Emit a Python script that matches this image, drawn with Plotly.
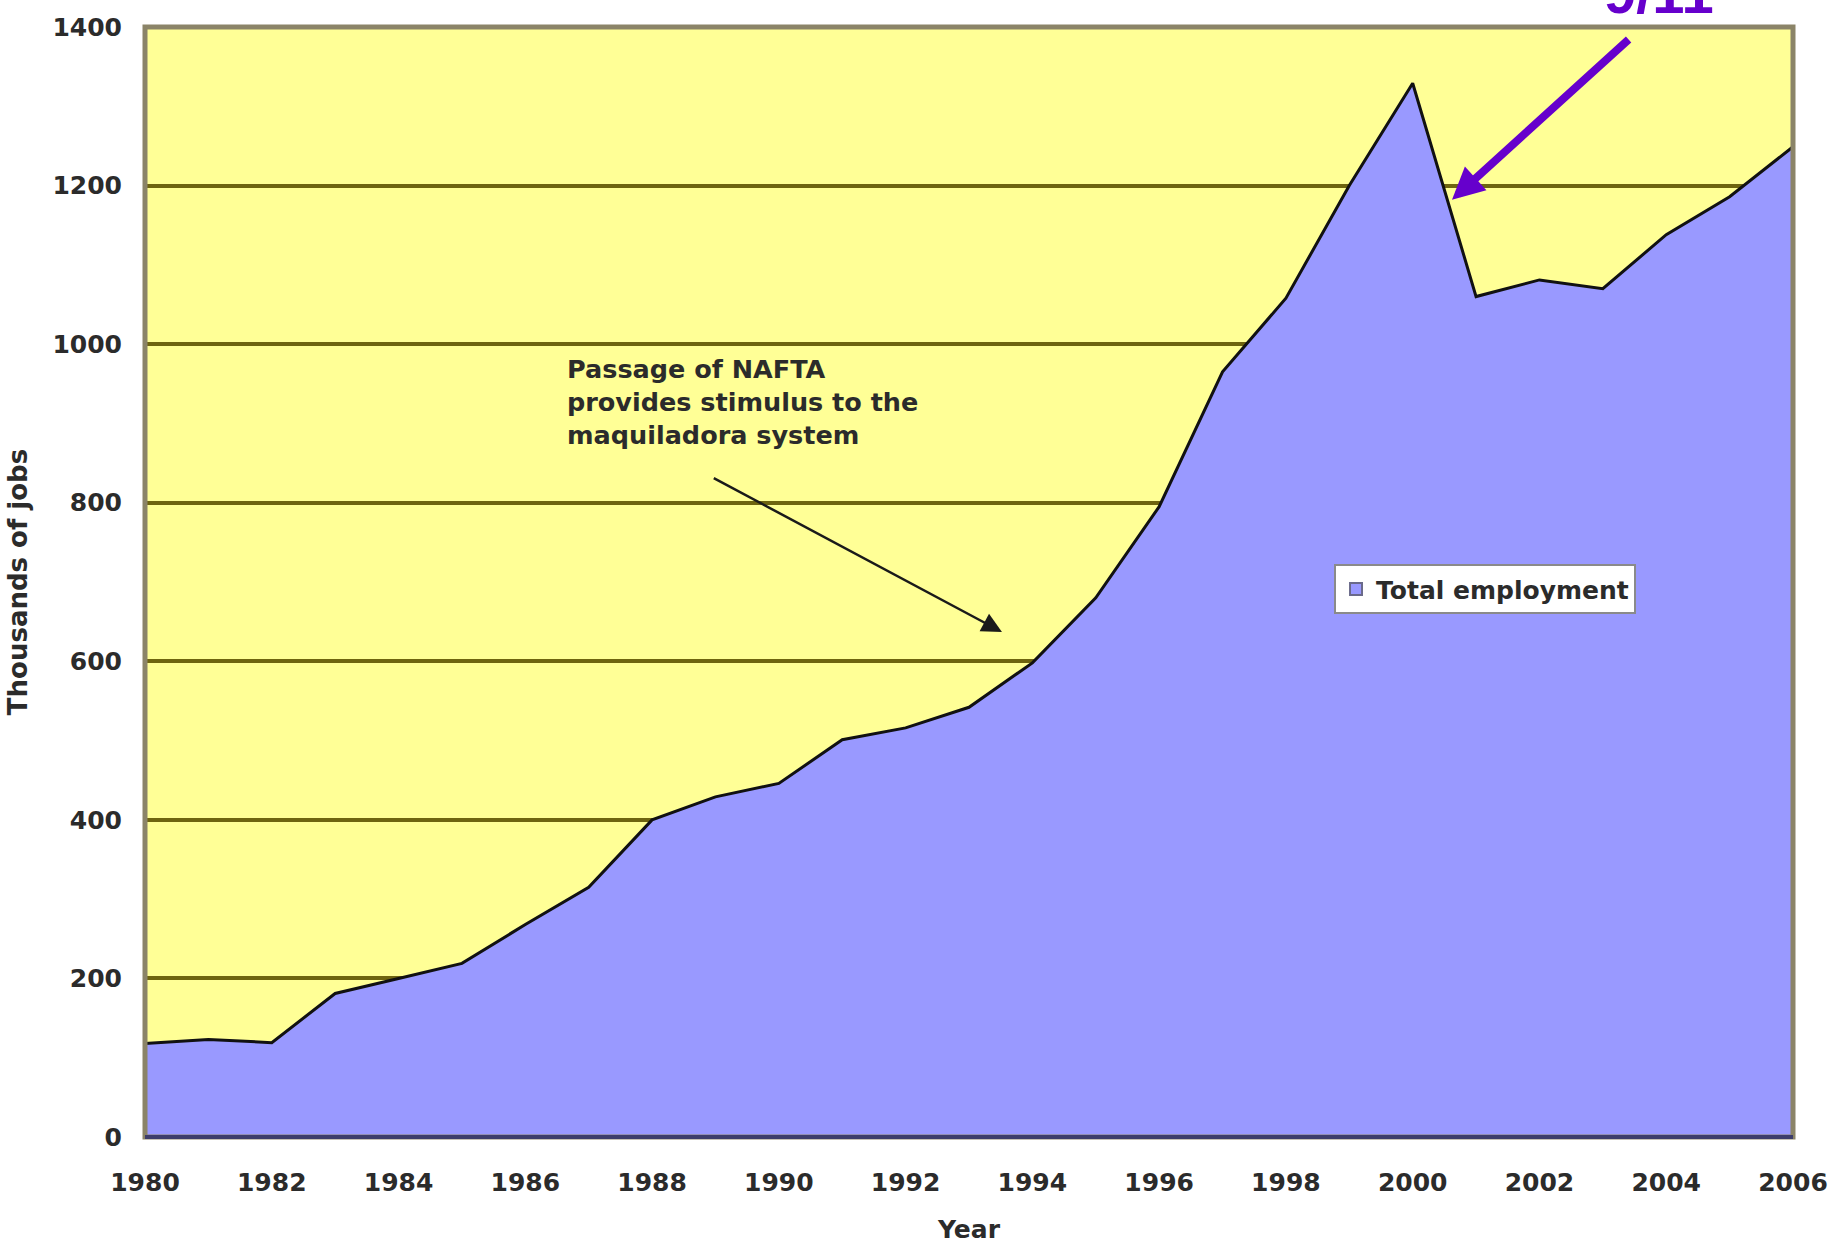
import plotly.graph_objects as go

years = list(range(1980, 2007))
employment = [118, 123, 119, 181, 200, 219, 268, 315, 400, 429, 446, 501, 516, 542,
              598, 680, 795, 965, 1058, 1200, 1329, 1060, 1081, 1070, 1138, 1186, 1249]
series_name = "Total employment"
x_ticks = list(range(1980, 2007, 2))
y_ticks = list(range(0, 1401, 200))

FONT = "DejaVu Sans"
TXT = "#2b2b2b"
FILL = "#9999ff"

fig = go.Figure()
fig.add_trace(go.Scatter(
    x=years, y=employment, name=series_name, mode="lines",
    fill="tozeroy", fillcolor=FILL, showlegend=False,
    line=dict(color="#111111", width=3),
))
# legend entry drawn as a filled square, like the original chart's key
fig.add_trace(go.Bar(
    x=[None], y=[None], name=series_name, showlegend=True,
    marker=dict(color=FILL, line=dict(color="#6a6a8a", width=2)),
))

fig.update_layout(
    width=1835, height=1246,
    margin=dict(l=145, r=42, t=27, b=109),
    paper_bgcolor="white", plot_bgcolor="#ffff96",
    font=dict(family=FONT, size=25, color=TXT, weight="bold"),
    showlegend=True,
    legend=dict(x=0.7215, y=0.516, xanchor="left", yanchor="top",
                bgcolor="white", bordercolor="#8a8a8a", borderwidth=2,
                itemwidth=30, tracegroupgap=0,
                font=dict(family=FONT, size=25, color=TXT, weight="bold")),
    xaxis=dict(range=[1980, 2006], tickvals=x_ticks, showgrid=False, zeroline=False,
               automargin=False, ticks="", ticklabelstandoff=28,
               title=dict(text="Year", standoff=24,
                          font=dict(family=FONT, size=25, color=TXT, weight="bold"))),
    yaxis=dict(range=[0, 1400], tickvals=y_ticks, showgrid=True,
               gridcolor="#6e640f", gridwidth=4, zeroline=False,
               automargin=False, ticks="", ticklabelstandoff=22,
               title=dict(text="Thousands of jobs", standoff=17,
                          font=dict(family=FONT, size=26, color=TXT, weight="bold"))),
)

# frame and bottom axis line
fig.add_shape(type="rect", xref="paper", yref="paper", x0=0, y0=0, x1=1, y1=1,
              line=dict(color="#8b8468", width=5), layer="above")
fig.add_shape(type="line", xref="paper", yref="paper", x0=0, y0=0, x1=1, y1=0,
              line=dict(color="#3d3d6b", width=4), layer="above")

# NAFTA annotation
fig.add_annotation(x=1986.63, y=990, xref="x", yref="y", xanchor="left", yanchor="top",
                   text="Passage of NAFTA<br>provides stimulus to the<br>maquiladora system",
                   showarrow=False, align="left",
                   font=dict(family=FONT, size=25.5, color=TXT, weight="bold"))
fig.add_annotation(x=1993.52, y=637, ax=1988.95, ay=832, xref="x", yref="y",
                   axref="x", ayref="y", text="", showarrow=True,
                   arrowhead=2, arrowsize=1.6, arrowwidth=2.5, arrowcolor="#1a1a1a",
                   standoff=0, startstandoff=0)

# 9/11 annotation
fig.add_annotation(x=2000.62, y=1182, ax=2003.43, ay=1386, xref="x", yref="y",
                   axref="x", ayref="y", text="", showarrow=True,
                   arrowhead=2, arrowsize=0.8, arrowwidth=8, arrowcolor="#6600cc",
                   standoff=0, startstandoff=0)
fig.add_annotation(x=2003.89, y=1.0, xref="x", yref="paper", xanchor="center",
                   yanchor="bottom", text="9/11", showarrow=False,
                   font=dict(family="Liberation Sans", size=58, color="#6600cc", weight="bold"))

fig.write_html("out.html")
